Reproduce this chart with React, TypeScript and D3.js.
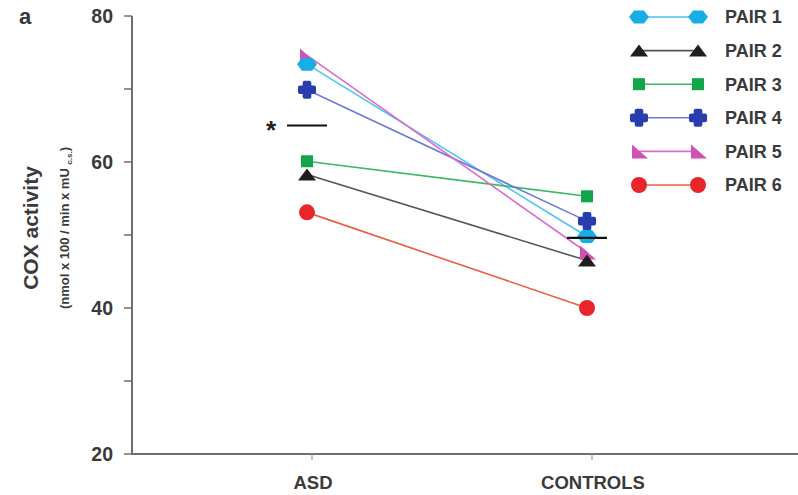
import React from "react";
import * as d3 from "d3";

const categories = ["ASD", "CONTROLS"];
const pairNames = ["PAIR 1", "PAIR 2", "PAIR 3", "PAIR 4", "PAIR 5", "PAIR 6"];
const asdValues = [73.4, 58.3, 60.1, 69.9, 74.6, 53.1];
const controlValues = [49.8, 46.5, 55.3, 51.9, 47.6, 40.0];
const meanValues = [65.0, 49.6];
const yTicks = [20, 30, 40, 50, 60, 70, 80];
const yLabels = [20, 40, 60, 80];
const markerColors = ["#17aee6", "#1e1e1e", "#12a54a", "#2a3db0", "#d052b4", "#e8262a"];
const lineColors = ["#4cc3f0", "#555555", "#3bb862", "#7079d8", "#db6ccb", "#f05a40"];
const shapes = ["hex", "tri", "square", "cross", "rtri", "circle"];

const W = 798;
const H = 495;

function Marker({ shape, color, x, y }: { shape: string; color: string; x: number; y: number }) {
  if (shape === "hex") {
    const pts = [[-10, 0], [-5, -6.5], [5, -6.5], [10, 0], [5, 6.5], [-5, 6.5]];
    return <polygon points={pts.map(p => `${x + p[0]},${y + p[1]}`).join(" ")} fill={color} />;
  }
  if (shape === "tri") {
    const pts = [[-9, 6], [0, -6], [9, 6]];
    return <polygon points={pts.map(p => `${x + p[0]},${y + p[1]}`).join(" ")} fill={color} />;
  }
  if (shape === "square") {
    return <rect x={x - 6} y={y - 6} width={12} height={12} fill={color} />;
  }
  if (shape === "cross") {
    const d = d3.symbol(d3.symbolCross, 110)() as string;
    return (
      <path d={d} transform={`translate(${x},${y})`} fill={color} stroke={color} strokeWidth={4} strokeLinejoin="round" />
    );
  }
  if (shape === "rtri") {
    const pts = [[-7, -7], [-7, 7], [9, 7]];
    return <polygon points={pts.map(p => `${x + p[0]},${y + p[1]}`).join(" ")} fill={color} />;
  }
  return <circle cx={x} cy={y} r={8} fill={color} />;
}

export default function App() {
  const x = d3.scalePoint<string>().domain(categories).range([307, 587]);
  const y = d3.scaleLinear().domain([20, 80]).range([454, 16]);
  const axisColor = "#6e6e6e";
  const textColor = "#3a3a3a";
  const font = "'Liberation Sans', Arial, sans-serif";
  const drawOrder = [4, 1, 2, 3, 5, 0];
  const legendY = d3.scaleLinear().domain([0, 5]).range([17, 185]);

  return (
    <svg width={W} height={H} style={{ position: "absolute", left: 0, top: 0, background: "#fff" }} fontFamily={font}>
      <rect width={W} height={H} fill="#fff" />
      <text x={19} y={24} fontSize={22} fontWeight="bold" fill={textColor}>a</text>

      {/* y axis */}
      <line x1={132} x2={132} y1={y(80)} y2={y(20)} stroke={axisColor} strokeWidth={2} />
      {yTicks.map(t => (
        <line key={t} x1={124} x2={132} y1={y(t)} y2={y(t)} stroke={axisColor} strokeWidth={1.5} />
      ))}
      {yLabels.map(t => (
        <text key={t} x={113} y={y(t)} dy="0.36em" textAnchor="end" fontSize={19.5} fontWeight="bold" fill={textColor}>
          {t}
        </text>
      ))}
      <text transform={`translate(38,228) rotate(-90)`} textAnchor="middle" fontSize={21} fontWeight="bold" fill={textColor}>
        COX activity
      </text>
      <text transform={`translate(69,228) rotate(-90)`} textAnchor="middle" fontSize={13} fontWeight="bold" fill={textColor}>
        (nmol x 100 / min x mU <tspan fontSize={8} dy="3">c.s.</tspan><tspan dy="-3">)</tspan>
      </text>

      {/* x axis */}
      <line x1={131} x2={W} y1={y(20)} y2={y(20)} stroke={axisColor} strokeWidth={2} />
      {categories.map(c => (
        <g key={c}>
          <line x1={(x(c) as number) + 5} x2={(x(c) as number) + 5} y1={y(20)} y2={y(20) + 6} stroke="#999" strokeWidth={1.2} />
          <text x={(x(c) as number) + 6} y={489} textAnchor="middle" fontSize={18.5} fontWeight="bold" fill={textColor}>
            {c}
          </text>
        </g>
      ))}

      {/* lines */}
      {pairNames.map((p, i) => (
        <line
          key={p}
          x1={x("ASD") as number}
          y1={y(asdValues[i])}
          x2={x("CONTROLS") as number}
          y2={y(controlValues[i])}
          stroke={lineColors[i]}
          strokeWidth={1.6}
        />
      ))}
      {drawOrder.map(i => (
        <g key={i}>
          <Marker shape={shapes[i]} color={markerColors[i]} x={x("ASD") as number} y={y(asdValues[i])} />
          <Marker shape={shapes[i]} color={markerColors[i]} x={x("CONTROLS") as number} y={y(controlValues[i])} />
        </g>
      ))}

      {/* means */}
      {categories.map((c, i) => (
        <line key={c} x1={(x(c) as number) - 20} x2={(x(c) as number) + 20} y1={y(meanValues[i])} y2={y(meanValues[i])} stroke="#111" strokeWidth={2.2} />
      ))}
      <text x={271} y={y(meanValues[0]) + 13} textAnchor="middle" fontSize={26} fontWeight="bold" fill="#222">*</text>

      {/* legend */}
      {pairNames.map((p, i) => {
        const ly = legendY(i);
        return (
          <g key={p}>
            <line x1={639} x2={698} y1={ly} y2={ly} stroke={lineColors[i]} strokeWidth={1.6} />
            <Marker shape={shapes[i]} color={markerColors[i]} x={639} y={ly} />
            <Marker shape={shapes[i]} color={markerColors[i]} x={698} y={ly} />
            <text x={725} y={ly} dy="0.36em" fontSize={18} fontWeight="bold" fill={textColor}>{p}</text>
          </g>
        );
      })}
    </svg>
  );
}
